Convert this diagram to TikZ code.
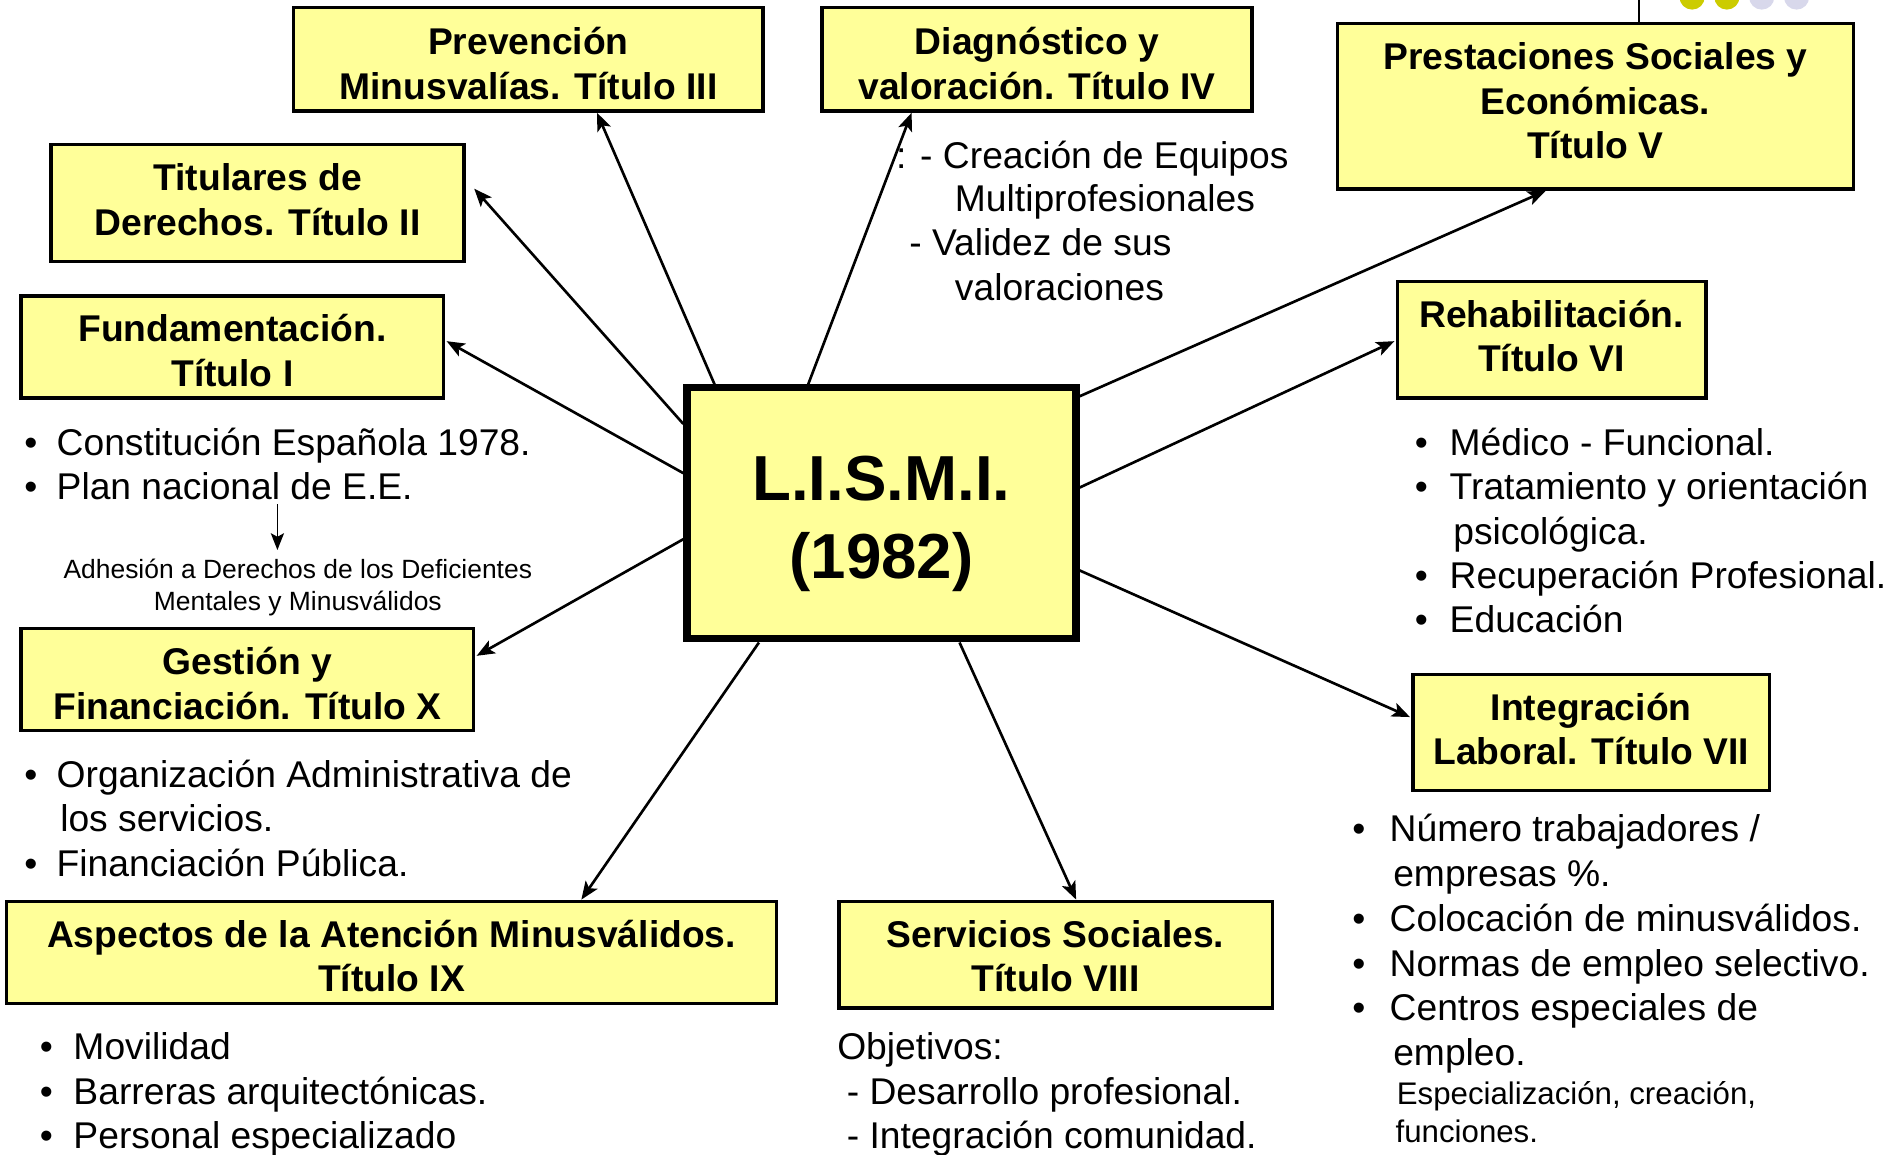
\documentclass[tikz,border=0pt]{standalone}
\usepackage{fontspec}
\setmainfont{Liberation Sans}
\usetikzlibrary{arrows.meta,calc}
\definecolor{boxfill}{HTML}{FFFF99}
\definecolor{dotyellow}{HTML}{CCCC00}
\definecolor{dotlav}{HTML}{D8D8EB}
\newcommand\tline[4]{\node[txt] (#1) at (#2,#3) {#4};}
\newcommand\bul[3]{\node[txt] (#1) at (#2,#3) {•};}
\newcommand\btxt[2]{\raisebox{-#1pt}[\height][\depth]{\begin{tabular}{@{}c@{}}#2\end{tabular}}}
\begin{document}
\begin{tikzpicture}[x=1pt,y=-1pt,
  box/.style={draw, line width=2.8pt, fill=boxfill, inner sep=0pt,
    font=\bfseries\fontsize{31}{37}\selectfont},
  mainbox/.style={draw, line width=6pt, fill=boxfill, inner sep=0pt,
    font=\bfseries\fontsize{53}{65}\selectfont},
  txt/.style={anchor=base west, inner sep=0pt, font=\fontsize{31}{37}\selectfont},
  small/.style={anchor=base, inner sep=0pt, font=\fontsize{22}{26}\selectfont},
  smallw/.style={anchor=base west, inner sep=0pt, font=\fontsize{26}{31}\selectfont},
  conn/.style={line width=2.2pt, -{Stealth[length=15pt,width=12pt,inset=3.5pt]}},
  thinconn/.style={line width=1.3pt, -{Stealth[length=14pt,width=11pt,inset=3pt]}}
]
\useasboundingbox (0,0) rectangle (1568,961);
\clip (0,0) rectangle (1568,961);

% decoration top right
\fill[dotyellow] (1409,-2.5) circle (10.5pt);
\fill[dotyellow] (1438,-2.5) circle (10.5pt);
\fill[dotlav] (1467,-2.5) circle (10.5pt);
\fill[dotlav] (1496,-2.5) circle (10.5pt);

% boxes
\node[mainbox, minimum width=324pt, minimum height=209pt] (L) at (734,427.5) {\btxt{8.5}{L.I.S.M.I.\\(1982)}};
\node[box, minimum width=391pt, minimum height=86pt] (prev) at (440,49.5) {\btxt{7.1}{Prevención\\Minusvalías. Título III}};
\node[box, minimum width=358pt, minimum height=86pt] (diag) at (863.5,49.5) {\btxt{7.1}{Diagnóstico y\\valoración. Título IV}};
\node[box, minimum width=430pt, minimum height=138pt] (prest) at (1328.5,88.5) {\btxt{-0.9}{Prestaciones Sociales y\\Económicas.\\Título V}};
\node[box, minimum width=344pt, minimum height=97pt] (tit) at (214.5,169) {\btxt{1.1}{Titulares de\\Derechos. Título II}};
\node[box, minimum width=352pt, minimum height=85pt] (fund) at (193.5,289) {\btxt{6.6}{Fundamentación.\\Título I}};
\node[box, minimum width=257pt, minimum height=97pt] (rehab) at (1292,283) {\btxt{0.6}{Rehabilitación.\\Título VI}};
\node[box, minimum width=377pt, minimum height=85pt] (gest) at (206,566) {\btxt{7.1}{Gestión y\\Financiación. Título X}};
\node[box, minimum width=297pt, minimum height=97pt] (integ) at (1325,610) {\btxt{1.1}{Integración\\Laboral. Título VII}};
\node[box, minimum width=641pt, minimum height=85pt] (asp) at (326,793) {\btxt{7.1}{Aspectos de la Atención Minusválidos.\\Título IX}};
\node[box, minimum width=361pt, minimum height=89pt] (serv) at (879,795) {\btxt{5.1}{Servicios Sociales.\\Título VIII}};

% top-right line
\coordinate (topc) at (1365,0);
\draw[line width=1.5pt] (topc) -- (topc |- prest.north);

% connectors
\draw[conn] ([xshift=26pt]L.north west) -- ([xshift=254pt]prev.south west);
\draw[conn] ([xshift=104pt]L.north west) -- ([xshift=76pt]diag.south west);
\draw[conn] ([yshift=-10pt]L.north east) -- ([xshift=175pt]prest.south west);
\draw[conn] ([yshift=-33pt]L.north west) -- ([xshift=7pt,yshift=-38pt]tit.north east);
\draw[conn] ([yshift=-74pt]L.north west) -- ([xshift=1pt,yshift=-39pt]fund.north east);
\draw[conn] ([yshift=-86pt]L.north east) -- ([xshift=-1pt,yshift=-51pt]rehab.north west);
\draw[conn] ([yshift=-129pt]L.north west) -- ([xshift=1pt,yshift=-24pt]gest.north east);
\draw[conn] ([yshift=-155pt]L.north east) -- ([xshift=-1pt,yshift=-37pt]integ.north west);
\draw[conn] ([xshift=63pt]L.south west) -- ([xshift=480pt]asp.north west);
\draw[conn] ([xshift=230pt]L.south west) -- ([xshift=199pt]serv.north west);

% Diagnostico notes
\tline{d1}{746}{140}{: - Creación de Equipos}
\tline{d2}{795}{176}{Multiprofesionales}
\tline{d3}{757}{213}{- Validez de sus}
\tline{d4}{795}{250}{valoraciones}

% Fundamentacion notes
\bul{fb1}{20}{379}\tline{f1}{47}{379}{Constitución Española 1978.}
\bul{fb2}{20}{416}\tline{f2}{47}{416}{Plan nacional de E.E.}
\coordinate (a1) at (231,420);
\coordinate (a2) at (231,458);
\draw[thinconn] (a1) -- (a2);
\node[small] (f3) at (248,482) {Adhesión a Derechos de los Deficientes};
\node[small] (f4) at (248,508) {Mentales y Minusválidos};

% Gestion notes
\bul{gb1}{20}{656}\tline{g1}{47}{656}{Organización Administrativa de}
\tline{g2}{50}{692}{los servicios.}
\bul{gb2}{20}{730}\tline{g3}{47}{730}{Financiación Pública.}

% Aspectos notes
\bul{ab1}{33}{882}\tline{as1}{61}{882}{Movilidad}
\bul{ab2}{33}{920}\tline{as2}{61}{920}{Barreras arquitectónicas.}
\bul{ab3}{33}{956}\tline{as3}{61}{956}{Personal especializado}

% Servicios notes
\tline{s1}{697}{882}{Objetivos:}
\tline{s2}{705}{920}{- Desarrollo profesional.}
\tline{s3}{705}{956}{- Integración comunidad.}

% Rehabilitacion notes
\bul{rb1}{1178}{379}\tline{r1}{1207}{379}{Médico - Funcional.}
\bul{rb2}{1178}{416}\tline{r2}{1207}{416}{Tratamiento y orientación}
\tline{r3}{1210}{453}{psicológica.}
\bul{rb3}{1178}{490}\tline{r4}{1207}{490}{Recuperación Profesional.}
\bul{rb4}{1178}{527}\tline{r5}{1207}{527}{Educación}

% Integracion notes
\bul{ib1}{1126}{701}\tline{i1}{1157}{701}{Número trabajadores /}
\tline{i2}{1160}{738}{empresas \%.}
\bul{ib2}{1126}{776}\tline{i3}{1157}{776}{Colocación de minusválidos.}
\bul{ib3}{1126}{813}\tline{i4}{1157}{813}{Normas de empleo selectivo.}
\bul{ib4}{1126}{850}\tline{i5}{1157}{850}{Centros especiales de}
\tline{i6}{1160}{887}{empleo.}
\node[smallw] (i7) at (1163,920) {Especialización, creación,};
\node[smallw] (i8) at (1162,951) {funciones.};
\end{tikzpicture}
\end{document}
